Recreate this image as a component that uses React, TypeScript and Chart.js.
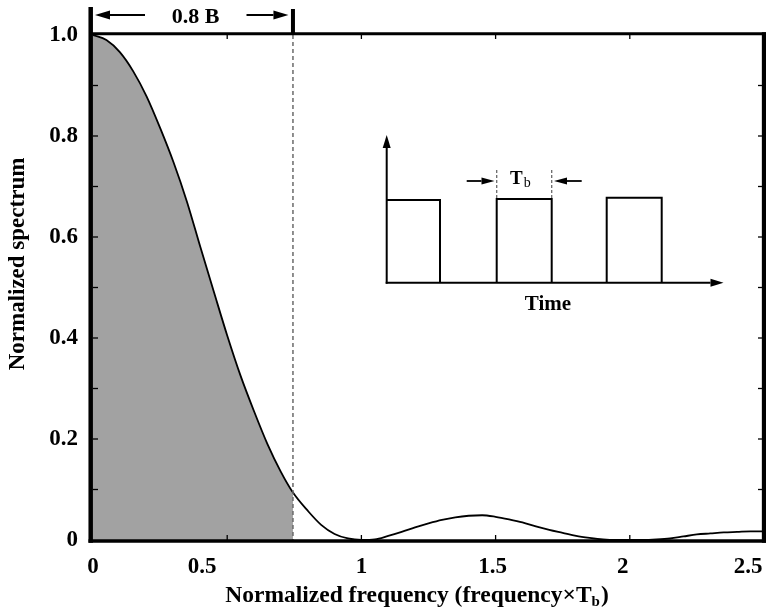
import React, { useEffect, useRef } from "react";
import { Chart, registerables } from "chart.js";

Chart.register(...registerables);

// ---- data ----
const frequency = [
  0, 0.05, 0.1, 0.15, 0.2, 0.25, 0.3, 0.35, 0.4, 0.45, 0.5, 0.55, 0.6, 0.65, 0.7, 0.745, 0.8, 0.85, 0.9, 0.95,
  1.0, 1.05, 1.1, 1.15, 1.2, 1.25, 1.3, 1.35, 1.4, 1.45, 1.5, 1.55, 1.6, 1.65, 1.7, 1.75, 1.8, 1.85, 1.9, 1.95,
  2.0, 2.05, 2.1, 2.15, 2.2, 2.25, 2.3, 2.35, 2.4, 2.45, 2.5,
];
const spectrum = [
  1.0, 0.99, 0.966, 0.928, 0.878, 0.816, 0.748, 0.67, 0.58, 0.492, 0.405, 0.325, 0.255, 0.19, 0.135, 0.094, 0.058, 0.03, 0.012, 0.003,
  0.0, 0.001, 0.008, 0.016, 0.025, 0.033, 0.04, 0.045, 0.048, 0.049, 0.046, 0.041, 0.035, 0.027, 0.02, 0.014, 0.008, 0.004, 0.001, 0.0,
  0.0, 0.0, 0.001, 0.003, 0.007, 0.011, 0.013, 0.015, 0.016, 0.017, 0.017,
];
const bandEdge = 0.745;
const xTickValues = [0, 0.5, 1, 1.5, 2, 2.5];
const xTickLabels = ["0", "0.5", "1", "1.5", "2", "2.5"];
const yTickValues = [0, 0.2, 0.4, 0.6, 0.8, 1.0];
const yTickLabels = ["0", "0.2", "0.4", "0.6", "0.8", "1.0"];
const yMinorValues = [0.1, 0.2, 0.3, 0.4, 0.5, 0.6, 0.7, 0.8, 0.9];
const xTitleMain = "Normalized frequency (frequency\u00D7T";
const xTitleSub = "b";
const xTitleEnd = ")";
const yTitle = "Normalized spectrum";
const bandLabel = "0.8 B";
const insetAxisLabel = "Time";
const insetPulseLabel = "T";
const insetPulseSub = "b";

// ---- styling constants ----
const FONT = '"Liberation Serif", "Times New Roman", serif';
const SHADE = "#a2a2a2";
// per-label horizontal nudges of the x tick labels (as in the reference)
const xLabelNudge = [0, -25, 0, -3, -7, -16];

function drawArrow(ctx: CanvasRenderingContext2D, x1: number, y1: number, x2: number, y2: number, len: number, half: number) {
  const ang = Math.atan2(y2 - y1, x2 - x1);
  const bx = x2 - len * Math.cos(ang);
  const by = y2 - len * Math.sin(ang);
  ctx.beginPath();
  ctx.moveTo(x1, y1);
  ctx.lineTo(bx, by);
  ctx.stroke();
  ctx.beginPath();
  ctx.moveTo(x2, y2);
  ctx.lineTo(bx + half * Math.sin(ang), by - half * Math.cos(ang));
  ctx.lineTo(bx - half * Math.sin(ang), by + half * Math.cos(ang));
  ctx.closePath();
  ctx.fill();
}

function seg(ctx: CanvasRenderingContext2D, x1: number, y1: number, x2: number, y2: number) {
  ctx.beginPath();
  ctx.moveTo(x1, y1);
  ctx.lineTo(x2, y2);
  ctx.stroke();
}

const decorations = {
  id: "decorations",
  afterDraw(chart: any) {
    const ctx: CanvasRenderingContext2D = chart.ctx;
    const a = chart.chartArea;
    const xs = chart.scales.x;
    const ys = chart.scales.y;
    ctx.save();

    // dashed band edge
    const bx = xs.getPixelForValue(bandEdge);
    ctx.strokeStyle = "#6a6a6a";
    ctx.lineWidth = 1.5;
    ctx.setLineDash([4, 3]);
    seg(ctx, bx, a.top, bx, a.bottom);
    ctx.setLineDash([]);

    // frame
    ctx.strokeStyle = "#000";
    ctx.fillStyle = "#000";
    ctx.lineCap = "butt";
    ctx.lineWidth = 3;
    seg(ctx, a.left - 4, a.top - 1.3, 766, a.top - 1.3);
    ctx.lineWidth = 3.4;
    seg(ctx, a.left - 4.5, a.bottom + 1, 766, a.bottom + 1);
    ctx.lineWidth = 4.5;
    seg(ctx, a.left - 2.3, 7, a.left - 2.3, a.bottom + 2.7);
    ctx.lineWidth = 4.3;
    seg(ctx, a.right, a.top - 2.8, a.right, a.bottom + 2.7);

    // ticks (inward)
    ctx.lineWidth = 1.3;
    xTickValues.forEach((v) => {
      if (v <= 0 || v >= 2.5) return;
      const px = xs.getPixelForValue(v);
      seg(ctx, px, a.bottom, px, a.bottom - 5);
      seg(ctx, px, a.top, px, a.top + 4);
    });
    yMinorValues.forEach((v) => {
      const py = ys.getPixelForValue(v);
      seg(ctx, a.left, py, a.left + 5, py);
      seg(ctx, a.right - 2, py, a.right - 6, py);
    });

    // band marker above the plot
    ctx.lineWidth = 4;
    seg(ctx, bx, 9, bx, a.top - 1);
    ctx.lineWidth = 2;
    drawArrow(ctx, 145, 15, 95, 15, 15, 4.5);
    drawArrow(ctx, 246.5, 15, bx - 4.5, 15, 15, 4.5);
    ctx.font = `bold 22px ${FONT}`;
    ctx.textAlign = "center";
    ctx.textBaseline = "alphabetic";
    ctx.fillText(bandLabel, 195.5, 23);

    // inset: pulse train
    ctx.lineWidth = 2;
    const ix0 = 386.7, iy0 = 282.7;
    drawArrow(ctx, ix0, iy0 + 1, ix0, 135, 13, 4);
    drawArrow(ctx, ix0 - 1, iy0, 723.5, iy0, 13, 4);
    ctx.beginPath();
    ctx.moveTo(ix0, 200);
    ctx.lineTo(440, 200);
    ctx.lineTo(440, iy0);
    ctx.stroke();
    ctx.beginPath();
    ctx.moveTo(496.7, iy0);
    ctx.lineTo(496.7, 199);
    ctx.lineTo(551.7, 199);
    ctx.lineTo(551.7, iy0);
    ctx.stroke();
    ctx.beginPath();
    ctx.moveTo(606.7, iy0);
    ctx.lineTo(606.7, 197.7);
    ctx.lineTo(661.7, 197.7);
    ctx.lineTo(661.7, iy0);
    ctx.stroke();
    ctx.strokeStyle = "#6a6a6a";
    ctx.lineWidth = 1.3;
    ctx.setLineDash([3, 2]);
    seg(ctx, 496.7, 170, 496.7, 198);
    seg(ctx, 551.7, 170, 551.7, 198);
    ctx.setLineDash([]);
    ctx.strokeStyle = "#000";
    ctx.lineWidth = 1.8;
    drawArrow(ctx, 466.7, 181, 494.5, 181, 13, 3.5);
    drawArrow(ctx, 581.7, 181, 554, 181, 13, 3.5);
    ctx.textAlign = "left";
    ctx.font = `bold 19px ${FONT}`;
    ctx.fillText(insetPulseLabel, 510, 184);
    const tw = ctx.measureText(insetPulseLabel).width;
    ctx.font = `14px ${FONT}`;
    ctx.fillText(insetPulseSub, 510 + tw + 1, 186.5);
    ctx.textAlign = "center";
    ctx.font = `bold 21px ${FONT}`;
    ctx.fillText(insetAxisLabel, 548, 309.5);

    // x tick labels
    ctx.font = `bold 23px ${FONT}`;
    xTickValues.forEach((v, i) => {
      const px = xs.getPixelForValue(v) + xLabelNudge[i];
      const w = ctx.measureText(xTickLabels[i]).width;
      const cx = Math.min(px, 766 - w / 2);
      ctx.fillText(xTickLabels[i], cx, 573);
    });

    // x axis title with subscript
    ctx.textAlign = "left";
    const mainFont = `bold 23.5px ${FONT}`;
    const subFont = `bold 15px ${FONT}`;
    ctx.font = mainFont;
    const w1 = ctx.measureText(xTitleMain).width;
    const w3 = ctx.measureText(xTitleEnd).width;
    ctx.font = subFont;
    const w2 = ctx.measureText(xTitleSub).width;
    let tx = 417 - (w1 + w2 + w3 + 1) / 2;
    ctx.font = mainFont;
    ctx.fillText(xTitleMain, tx, 602);
    tx += w1;
    ctx.font = subFont;
    ctx.fillText(xTitleSub, tx, 606);
    tx += w2 + 1;
    ctx.font = mainFont;
    ctx.fillText(xTitleEnd, tx, 602);

    // y axis title
    ctx.save();
    ctx.translate(23.5, 264);
    ctx.rotate(-Math.PI / 2);
    ctx.textAlign = "center";
    ctx.font = `bold 23px ${FONT}`;
    ctx.fillText(yTitle, 0, 0);
    ctx.restore();

    ctx.restore();
  },
};

export default function App() {
  const ref = useRef<HTMLCanvasElement | null>(null);

  useEffect(() => {
    if (!ref.current) return;
    const curve = frequency.map((f, i) => ({ x: f, y: spectrum[i] }));
    const band = curve.filter((p) => p.x <= bandEdge + 1e-9);
    const chart = new Chart(ref.current, {
      type: "scatter",
      data: {
        datasets: [
          {
            data: curve,
            showLine: true,
            borderColor: "#000",
            borderWidth: 1.8,
            pointRadius: 0,
            fill: false,
            cubicInterpolationMode: "monotone",
            order: 0,
          } as any,
          {
            data: band,
            showLine: true,
            borderWidth: 0,
            borderColor: "rgba(0,0,0,0)",
            backgroundColor: SHADE,
            pointRadius: 0,
            fill: "origin",
            cubicInterpolationMode: "monotone",
            order: 1,
          } as any,
        ],
      },
      options: {
        animation: false,
        responsive: false,
        devicePixelRatio: 1,
        layout: { padding: { top: 35, right: 2, bottom: 0, left: 0 } },
        plugins: { legend: { display: false }, tooltip: { enabled: false } },
        scales: {
          x: {
            type: "linear",
            min: 0,
            max: 2.5,
            grid: { display: false },
            border: { display: false },
            ticks: { display: false },
            afterFit: (s: any) => {
              s.height = 72;
              s.paddingLeft = 0;
              s.paddingRight = 0;
            },
          },
          y: {
            type: "linear",
            min: 0,
            max: 1,
            grid: { display: false, drawTicks: false },
            border: { display: false },
            afterBuildTicks: (s: any) => {
              s.ticks = yTickValues.map((v) => ({ value: v }));
            },
            ticks: {
              color: "#000",
              padding: 15,
              font: { family: FONT, size: 23, weight: "bold" },
              callback: (_v: any, i: number) => yTickLabels[i],
            },
            afterFit: (s: any) => {
              s.width = 93;
              s.paddingTop = 0;
              s.paddingBottom = 0;
            },
          },
        },
      } as any,
      plugins: [decorations],
    });
    return () => chart.destroy();
  }, []);

  return (
    <div style={{ position: "fixed", left: 0, top: 0, width: 766, height: 612, background: "#fff" }}>
      <canvas ref={ref} width={766} height={612} style={{ display: "block" }} />
    </div>
  );
}
